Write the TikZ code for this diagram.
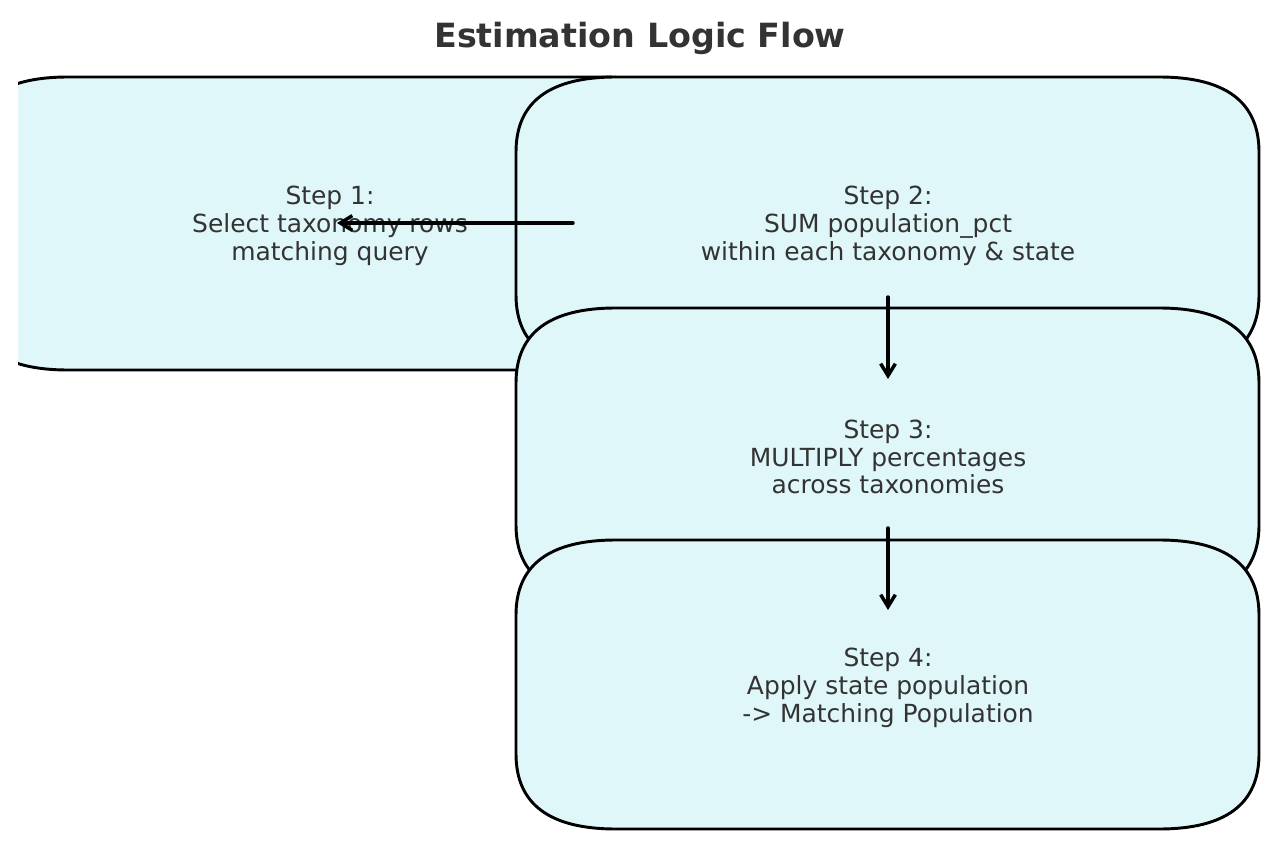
\documentclass[tikz,border=0pt]{standalone}
\usepackage{fontspec}
\setmainfont{DejaVu Sans}
\usetikzlibrary{arrows.meta}
\definecolor{boxfill}{HTML}{E0F7FA}
\definecolor{txtgray}{HTML}{333333}

\begin{document}
\begin{tikzpicture}[x=0.75pt,y=0.75pt,yscale=-1,
  stepbox/.style={draw=black,line width=2.2pt,fill=boxfill},
  steptext/.style={align=center,text=txtgray,inner sep=0.75pt,font=\fontsize{18.7}{20.8}\selectfont},
  flow/.style={-{Straight Barb[length=9pt,width=11pt]},line width=2.6pt,line cap=round}]
\useasboundingbox (0,0) rectangle (1280,852);

%Shape: Step 1 box (cut at the left edge)
\begin{scope}
\clip (18,60) rectangle (1262,834);
\draw [stepbox] (68,77) -- (601,77) .. controls (667.7,77) and (701,102) .. (701,152) -- (701,295) .. controls (701,345) and (667.7,370) .. (601,370) -- (68,370) .. controls (1.3,370) and (-32,345) .. (-32,295) -- (-32,152) .. controls (-32,102) and (1.3,77) .. (68,77) -- cycle ;
\end{scope}
%Shape: Step 2 box
\draw [stepbox] (616,77) -- (1159,77) .. controls (1225.7,77) and (1259,102) .. (1259,152) -- (1259,295) .. controls (1259,345) and (1225.7,370) .. (1159,370) -- (616,370) .. controls (549.3,370) and (516,345) .. (516,295) -- (516,152) .. controls (516,102) and (549.3,77) .. (616,77) -- cycle ;
%Shape: Step 3 box
\draw [stepbox] (616,308) -- (1159,308) .. controls (1225.7,308) and (1259,333) .. (1259,383) -- (1259,525) .. controls (1259,575) and (1225.7,600) .. (1159,600) -- (616,600) .. controls (549.3,600) and (516,575) .. (516,525) -- (516,383) .. controls (516,333) and (549.3,308) .. (616,308) -- cycle ;
%Shape: Step 4 box
\draw [stepbox] (616,540) -- (1159,540) .. controls (1225.7,540) and (1259,565) .. (1259,615) -- (1259,754) .. controls (1259,804) and (1225.7,829) .. (1159,829) -- (616,829) .. controls (549.3,829) and (516,804) .. (516,754) -- (516,615) .. controls (516,565) and (549.3,540) .. (616,540) -- cycle ;

% Text Node
\node [font=\bfseries\fontsize{25}{30}\selectfont,text=txtgray] (title) at (640,38) {Estimation Logic Flow};
% Text Node
\node [steptext] (s1) at (330,226) {Step 1:\\Select taxonomy rows\\matching query};
% Text Node
\node [steptext] (s2) at (888,226) {Step 2:\\SUM population\_pct\\within each taxonomy \& state};
% Text Node
\node [steptext] (s3) at (888,457) {Step 3:\\MULTIPLY percentages\\across taxonomies};
% Text Node
\node [steptext] (s4) at (888,688) {Step 4:\\Apply state population\\-> Matching Population};

% Arrow ends
\coordinate (a12) at (573,223);
\coordinate (a11) at (337,223);
\coordinate (a23) at (888,297);
\coordinate (a33) at (888,379);
\coordinate (a34) at (888,528);
\coordinate (a44) at (888,610);

\draw [flow] (a12) -- (a11);
\draw [flow] (a23) -- (a33);
\draw [flow] (a34) -- (a44);

\end{tikzpicture}
\end{document}
